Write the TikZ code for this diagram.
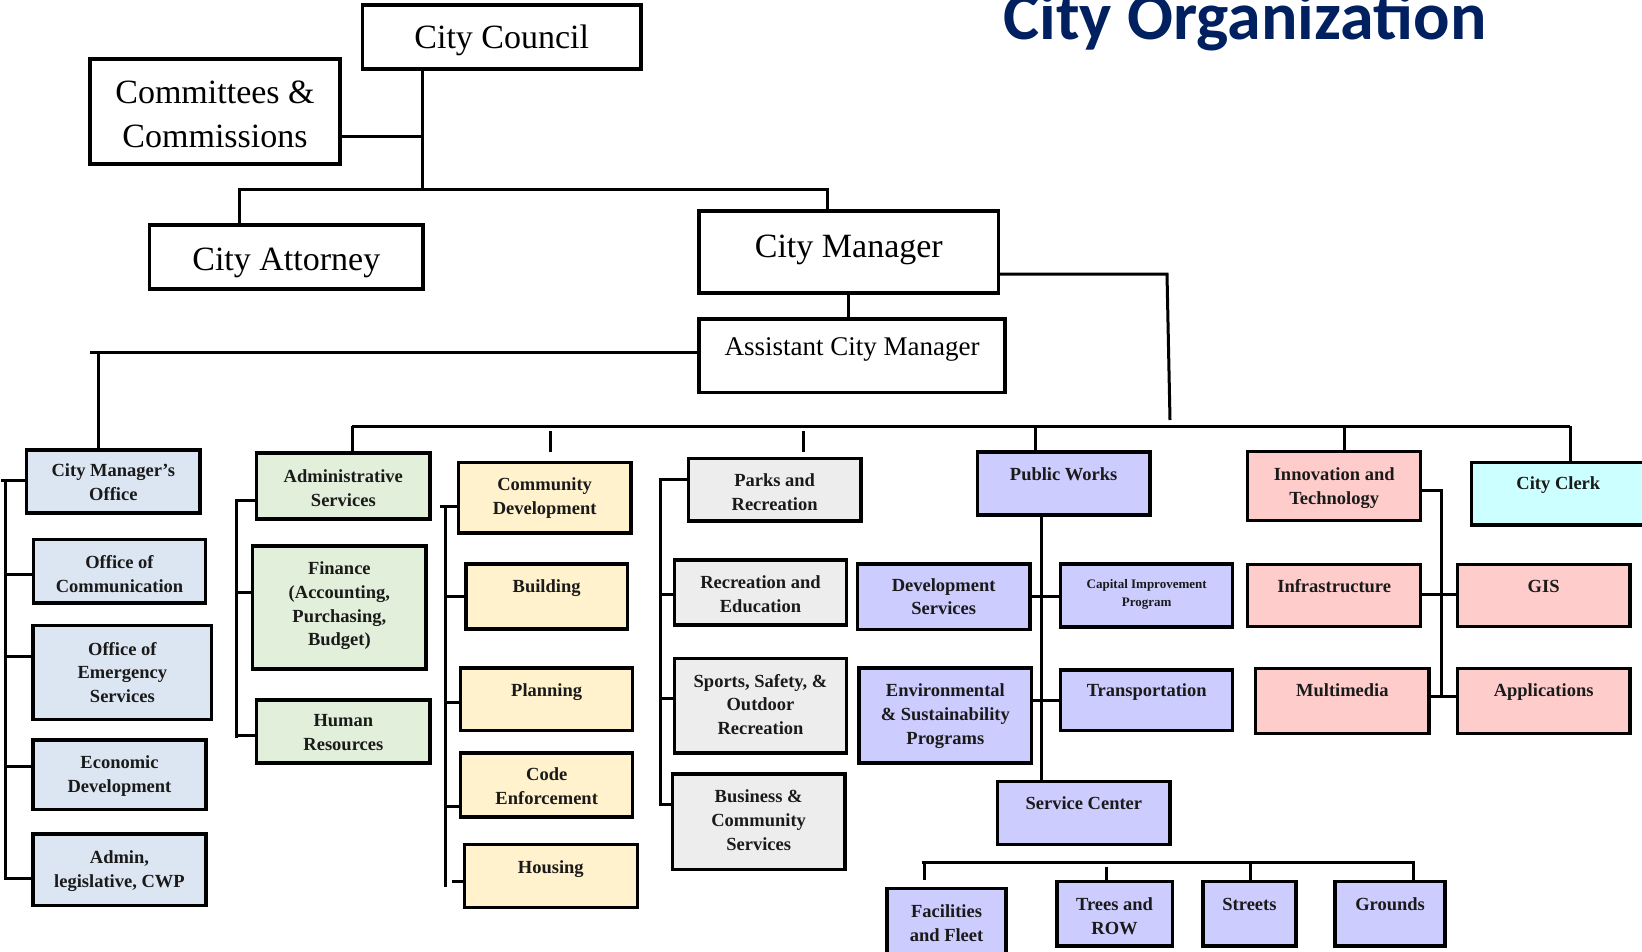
\documentclass[tikz,border=0pt]{standalone}
\usepackage{fontspec}
\setmainfont{Liberation Serif}
\newfontfamily\titlefont{Carlito}
\definecolor{cmoblue}{HTML}{DCE6F2}
\definecolor{asgreen}{HTML}{E2EFDA}
\definecolor{cdyellow}{HTML}{FFF2CC}
\definecolor{prgrey}{HTML}{EDEDED}
\definecolor{pwlav}{HTML}{CCCCFF}
\definecolor{itpink}{HTML}{FFCCCC}
\definecolor{clerkcyan}{HTML}{CCFFFF}
\definecolor{titleblue}{HTML}{002060}
\definecolor{txtdark}{HTML}{1A1A1A}
\tikzset{
  obox/.style={draw=black, line width=3.5pt, inner sep=0pt, outer sep=0pt, rectangle},
  conn/.style={draw=black, line width=3pt},
  toptxt/.style={font=\fontsize{34}{44}\selectfont, align=center, inner sep=0pt, anchor=north, yshift=14.3pt},
  acmtxt/.style={font=\fontsize{27}{32}\selectfont, align=center, inner sep=0pt, anchor=north, yshift=11.3pt},
  lowtxt/.style={font=\fontsize{18.5}{23.7}\selectfont\bfseries, text=txtdark, align=center, inner sep=0pt, anchor=north, yshift=7.8pt},
  tinytxt/.style={font=\fontsize{13}{18}\selectfont\bfseries, text=txtdark, align=center, inner sep=0pt, anchor=north, yshift=5.5pt},
}
\newcommand\orgbox[9]{%
  \node[obox, fill=#2, anchor=north west, minimum width={(#5)-(#3)}, minimum height={(#6)-(#4)}] (#1) at (#3,#4) {};
  \node[#7] (#1-t) at ({((#3)+(#5))/2},#8) {\rule{0pt}{0.72em}#9};
}
\begin{document}
\begin{tikzpicture}[x=1pt,y=-1pt]
\path[use as bounding box] (0,0) rectangle (1642,951);
\fill[white] (0,0) rectangle (1642,951);
\clip (0,0) rectangle (1642,951);

% title
\node[font=\titlefont\bfseries\fontsize{68}{70}\selectfont, text=titleblue, anchor=base, inner sep=0pt] (title) at (1245,39) {City Organization};

% top level
\orgbox{cc}{white}{362.5}{5}{641}{69}{toptxt}{38}{City Council}
\orgbox{com}{white}{90}{59}{340}{164}{toptxt}{93}{Committees \&\\Commissions}
\orgbox{att}{white}{149.6}{225}{423}{289}{toptxt}{260}{City Attorney}
\orgbox{cm}{white}{699}{211}{998.6}{293}{toptxt}{247}{City Manager}
\orgbox{acm}{white}{699}{319}{1005}{392.7}{acmtxt}{347}{Assistant City Manager}

% city manager's office column
\orgbox{cmo}{cmoblue}{26.7}{449.8}{200}{513.1}{lowtxt}{470.8}{City Manager’s\\Office}
\orgbox{comm}{cmoblue}{33.3}{539.5}{205.7}{602.9}{lowtxt}{562.9}{Office of\\Communication}
\orgbox{emer}{cmoblue}{33}{625.6}{211.7}{719.4}{lowtxt}{649.3}{Office of\\Emergency\\Services}
\orgbox{econ}{cmoblue}{33}{740}{206}{809.4}{lowtxt}{763}{Economic\\Development}
\orgbox{adm}{cmoblue}{33}{834.2}{206}{905.3}{lowtxt}{857.9}{Admin,\\legislative, CWP}

% administrative services column
\orgbox{as}{asgreen}{256.7}{453.2}{430}{519.2}{lowtxt}{476.9}{Administrative\\Services}
\orgbox{fin}{asgreen}{252.7}{546}{426}{668.9}{lowtxt}{569}{Finance\\(Accounting,\\Purchasing,\\Budget)}
\orgbox{hr}{asgreen}{256.7}{700}{430}{763}{lowtxt}{720.7}{Human\\Resources}

% community development column
\orgbox{cd}{cdyellow}{458.3}{462.3}{631}{532.8}{lowtxt}{485}{Community\\Development}
\orgbox{bld}{cdyellow}{466}{563.9}{627.3}{628.9}{lowtxt}{586.6}{Building}
\orgbox{pln}{cdyellow}{460.7}{668.2}{632.7}{730.5}{lowtxt}{690.9}{Planning}
\orgbox{code}{cdyellow}{460.7}{752.9}{632.7}{816.9}{lowtxt}{774.9}{Code\\Enforcement}
\orgbox{hou}{cdyellow}{464.3}{844.3}{637.3}{907.6}{lowtxt}{867.7}{Housing}

% parks column
\orgbox{pr}{prgrey}{688.3}{458.3}{861}{520.9}{lowtxt}{481}{Parks and\\Recreation}
\orgbox{re}{prgrey}{674.3}{559.9}{846.7}{624.9}{lowtxt}{583.2}{Recreation and\\Education}
\orgbox{ss}{prgrey}{674.3}{658.7}{846.7}{752.9}{lowtxt}{681.4}{Sports, Safety, \&\\Outdoor\\Recreation}
\orgbox{bcs}{prgrey}{672.3}{773.9}{845}{869.4}{lowtxt}{796.9}{Business \&\\Community\\Services}

% public works
\orgbox{pw}{pwlav}{977.3}{452.2}{1150}{514.8}{lowtxt}{474.9}{Public Works}
\orgbox{ds}{pwlav}{857.3}{563.9}{1030}{629.3}{lowtxt}{585.3}{Development\\Services}
\orgbox{cip}{pwlav}{1060.7}{563.9}{1232.7}{627.2}{tinytxt}{584.9}{Capital Improvement\\Program}
\orgbox{env}{pwlav}{859}{668.2}{1031.7}{763}{lowtxt}{690.9}{Environmental\\\& Sustainability\\Programs}
\orgbox{tr}{pwlav}{1060.7}{669.9}{1232.7}{730.5}{lowtxt}{690.9}{Transportation}
\orgbox{sc}{pwlav}{997.7}{781.7}{1170}{844.3}{lowtxt}{803.3}{Service Center}
\orgbox{ff}{pwlav}{887.2}{888.3}{1005.9}{962}{lowtxt}{911.7}{Facilities\\and Fleet}
\orgbox{tro}{pwlav}{1056.8}{881.7}{1172.3}{946}{lowtxt}{905}{Trees and\\ROW}
\orgbox{st}{pwlav}{1203}{881.7}{1296}{946}{lowtxt}{905}{Streets}
\orgbox{gr}{pwlav}{1335}{881.7}{1445.2}{946}{lowtxt}{905}{Grounds}

% innovation and technology
\orgbox{it}{itpink}{1247.7}{451.7}{1420.7}{520.7}{lowtxt}{475}{Innovation and\\Technology}
\orgbox{inf}{itpink}{1247.7}{564.3}{1420.7}{626.7}{lowtxt}{586.7}{Infrastructure}
\orgbox{gis}{itpink}{1457.3}{564.3}{1630}{626.7}{lowtxt}{586.7}{GIS}
\orgbox{mm}{itpink}{1255.7}{668.3}{1429}{733.3}{lowtxt}{690.7}{Multimedia}
\orgbox{app}{itpink}{1457.3}{668.3}{1630}{733.3}{lowtxt}{690.7}{Applications}

% city clerk
\orgbox{clerk}{clerkcyan}{1471.7}{462.3}{1645}{525}{lowtxt}{483.3}{City Clerk}

% ---- connectors: top
\coordinate (j1) at (422,136);
\coordinate (j2) at (422,189);
\coordinate (ha) at (239,189);
\coordinate (hb) at (827.4,189);
\draw[conn] (cc.south -| j1) -- (j2);
\draw[conn] (com.east |- j1) -- (j1);
\draw[conn] (att.north -| ha) -- (ha) -- (hb) -- (cm.north -| hb);
\draw[conn] (cm.south) -- (cm.south |- acm.north);
\coordinate (cr1) at (1167,274);
\coordinate (cr2) at (1170,420);
\draw[conn] (cm.east |- cr1) -- (cr1) -- (cr2);
\coordinate (al0) at (90,352);
\coordinate (al) at (98,352);
\draw[conn] (acm.west |- al) -- (al0);
\draw[conn] (al) -- (cmo.north -| al);

% ---- main bus
\coordinate (b0) at (352,426);
\coordinate (b1) at (550.7,426);
\coordinate (b2) at (803.3,426);
\coordinate (b3) at (1035,426);
\coordinate (b4) at (1344.3,426);
\coordinate (b5) at (1570,426);
\draw[conn] (b0) -- (b5);
\draw[conn] (b0) -- (as.north -| b0);
\draw[conn, shorten <=5pt, shorten >=10pt] (b1) -- (cd.north -| b1);
\draw[conn, shorten <=5pt, shorten >=6pt] (b2) -- (pr.north -| b2);
\draw[conn] (b3) -- (pw.north -| b3);
\draw[conn] (b4) -- (it.north -| b4);
\draw[conn] (b5) -- (clerk.north -| b5);

% ---- city manager's office bracket
\coordinate (l0) at (1,480.3);
\coordinate (l1) at (5,480.3);
\coordinate (l2) at (5,574.1);
\coordinate (l3) at (5,656);
\coordinate (l4) at (5,766.1);
\coordinate (l5) at (5,878.9);
\draw[conn] (cmo.west |- l1) -- (l0);
\draw[conn] (l1) -- (l5) -- (adm.west |- l5);
\draw[conn] (l2) -- (comm.west |- l2);
\draw[conn] (l3) -- (emer.west |- l3);
\draw[conn] (l4) -- (econ.west |- l4);

% ---- administrative services bracket
\coordinate (a1) at (236,500.6);
\coordinate (a2) at (236,592.7);
\coordinate (a3) at (236,735);
\coordinate (a4) at (236,738);
\draw[conn] (as.west |- a1) -- (a1) -- (a4);
\draw[conn] (a2) -- (fin.west |- a2);
\draw[conn] (a3) -- (hr.west |- a3);

% ---- community development bracket
\coordinate (c0) at (440,506.4);
\coordinate (c1) at (445,506.4);
\coordinate (c2) at (445,596.1);
\coordinate (c3) at (445,702.8);
\coordinate (c4) at (445,806);
\coordinate (c5) at (445,887.3);
\coordinate (c6) at (451.7,881.6);
\draw[conn] (cd.west |- c1) -- (c0);
\draw[conn] (c1) -- (c5);
\draw[conn] (c2) -- (bld.west |- c2);
\draw[conn] (c3) -- (pln.west |- c3);
\draw[conn] (c4) -- (code.west |- c4);
\draw[conn] (hou.west |- c6) -- (c6);

% ---- parks bracket
\coordinate (p1) at (660,479.3);
\coordinate (p2) at (660,594.4);
\coordinate (p3) at (660,698.4);
\coordinate (p4) at (660,804.4);
\draw[conn] (pr.west |- p1) -- (p1) -- (p4) -- (bcs.west |- p4);
\draw[conn] (p2) -- (re.west |- p2);
\draw[conn] (p3) -- (ss.west |- p3);

% ---- public works
\coordinate (w1) at (1041,596.1);
\coordinate (w2) at (1041,700.4);
\draw[conn] (pw.south -| w1) -- (sc.north -| w1);
\draw[conn] (ds.east |- w1) -- (cip.west |- w1);
\draw[conn] (env.east |- w2) -- (tr.west |- w2);

% ---- service center sub-bus
\coordinate (s0) at (921.7,862.7);
\coordinate (s1) at (924.7,862.7);
\coordinate (s2) at (1106,862.7);
\coordinate (s3) at (1250,862.7);
\coordinate (s4) at (1413.4,862.7);
\draw[conn] (s0) -- (s4) -- (gr.north -| s4);
\draw[conn, shorten >=8pt] (s1) -- (ff.north -| s1);
\draw[conn, shorten <=4pt] (s2) -- (tro.north -| s2);
\draw[conn] (s3) -- (st.north -| s3);

% ---- innovation and technology
\coordinate (i1) at (1441.7,490);
\coordinate (i2) at (1441.7,594);
\coordinate (i3) at (1441.7,696.7);
\draw[conn] (it.east |- i1) -- (i1) -- (i3);
\draw[conn] (inf.east |- i2) -- (gis.west |- i2);
\draw[conn] (mm.east |- i3) -- (app.west |- i3);
\end{tikzpicture}
\end{document}
